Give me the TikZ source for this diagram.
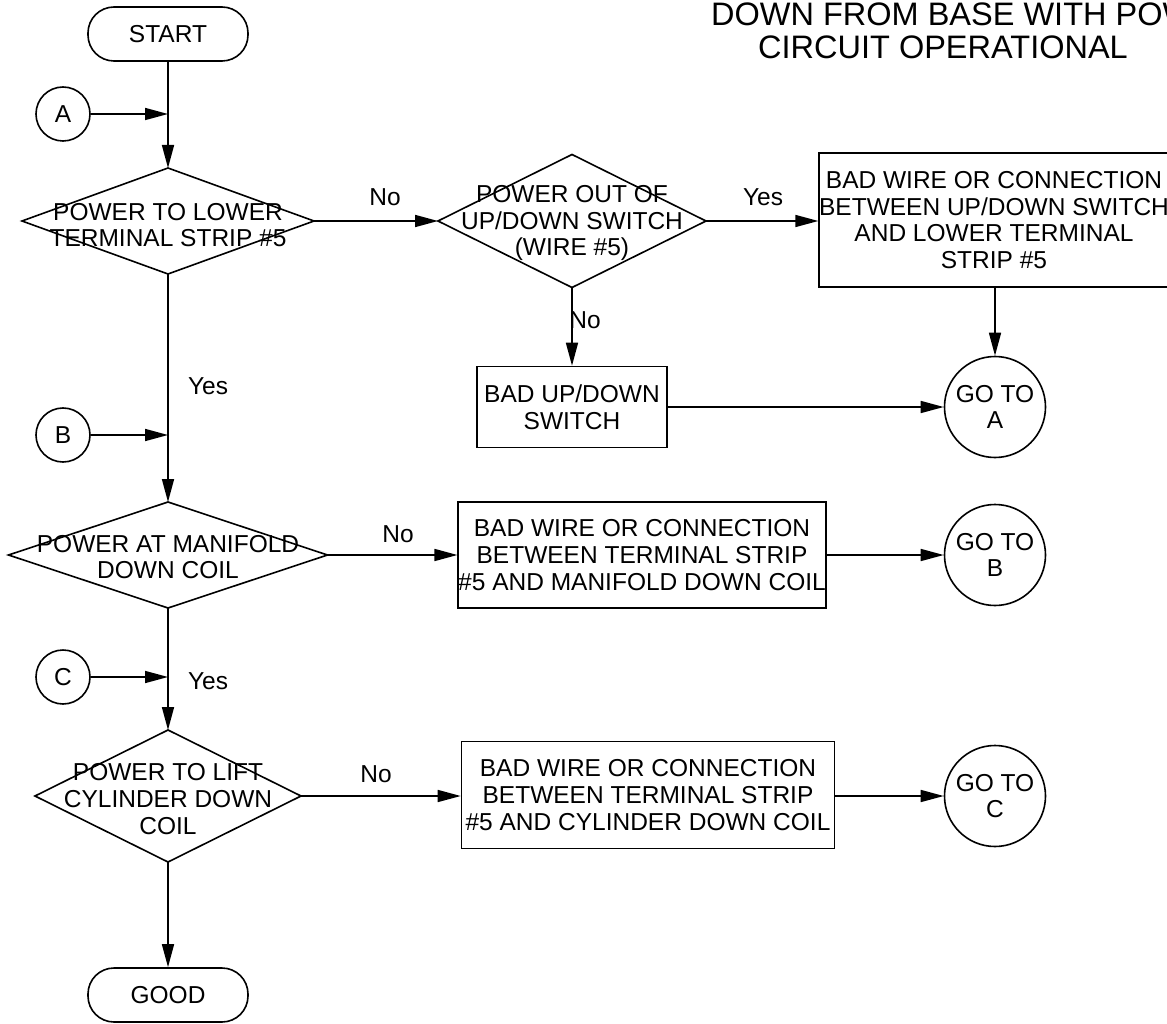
\documentclass[tikz,border=0pt]{standalone}
\usepackage{fontspec}
\setmainfont{Liberation Sans}
\usetikzlibrary{shapes.geometric,arrows.meta}
\tikzset{
  base/.style={line width=1.6pt},
  txt/.style={font=\fontsize{24.5}{26.7}\selectfont, align=center, inner sep=0pt},
  title/.style={font=\fontsize{32.5}{35}\selectfont, inner sep=0pt},
  term/.style={base, draw, rectangle, rounded corners=26pt, minimum width=160pt, minimum height=54pt, txt},
  dia/.style={base, draw, diamond, inner sep=0pt, outer sep=0pt},
  box/.style={base, draw, rectangle, txt},
  conn/.style={base, draw, circle, minimum size=54pt, txt},
  goto/.style={base, draw, circle, minimum size=101pt, txt},
  lbl/.style={txt},
  arr/.style={base, -{Triangle[length=23pt,width=12pt]}},
  ln/.style={base}
}
\begin{document}
\begin{tikzpicture}[x=1pt,y=-1pt]
\useasboundingbox (0,0) rectangle (1167,1024);
% title
\node[title, anchor=west] (t1) at (711,14) {DOWN FROM BASE WITH POW};
\node[title] (t2) at (943,47) {CIRCUIT OPERATIONAL};
% main column
\node[term] (st) at (168,34) {START};
\node[dia, minimum width=292pt, minimum height=106pt] (d1) at (168,221) {};
\node[txt] (d1t) at (168,225) {POWER TO LOWER\\TERMINAL STRIP \#5};
\node[dia, minimum width=319pt, minimum height=106pt] (d3) at (168,555) {};
\node[txt] (d3t) at (168,557) {POWER AT MANIFOLD\\DOWN COIL};
\node[dia, minimum width=266pt, minimum height=132pt] (d4) at (168,796) {};
\node[txt] (d4t) at (168,799) {POWER TO LIFT\\CYLINDER DOWN\\COIL};
\node[term] (gd) at (168,995) {GOOD};
% connectors circles
\node[conn] (cA) at (63,114) {A};
\node[conn] (cB) at (63,435) {B};
\node[conn] (cC) at (63,677) {C};
\coordinate (jA) at (168,114);
\coordinate (jB) at (168,435);
\coordinate (jC) at (168,677);
% second column
\node[dia, minimum width=268pt, minimum height=133pt] (d2) at (572,221) {};
\node[txt] (d2t) at (572,223) {POWER OUT OF\\UP/DOWN SWITCH\\(WIRE \#5)};
\node[box, minimum width=190pt, minimum height=81pt] (b2) at (572,407) {BAD UP/DOWN\\SWITCH};
\node[box, minimum width=336pt, minimum height=134pt] (b1) at (994,220) {BAD WIRE OR CONNECTION\\BETWEEN UP/DOWN SWITCH\\AND LOWER TERMINAL\\STRIP \#5};
\node[box, minimum width=359pt, minimum height=106pt] (b3) at (642,555) {BAD WIRE OR CONNECTION\\BETWEEN TERMINAL STRIP\\\#5 AND MANIFOLD DOWN COIL};
\node[box, minimum width=373pt, minimum height=107pt] (b4) at (648,795) {BAD WIRE OR CONNECTION\\BETWEEN TERMINAL STRIP\\\#5 AND CYLINDER DOWN COIL};
\node[goto] (ga) at (995,407) {GO TO\\A};
\node[goto] (gb) at (995,555) {GO TO\\B};
\node[goto] (gc) at (995,796) {GO TO\\C};
% labels
\node[lbl] (l1) at (385,197) {No};
\node[lbl] (l2) at (763,197) {Yes};
\node[lbl] (l3) at (585,320) {No};
\node[lbl] (l4) at (208,386) {Yes};
\node[lbl] (l5) at (398,534) {No};
\node[lbl] (l6) at (208,681) {Yes};
\node[lbl] (l7) at (376,774) {No};
% edges
\draw[arr] (st.south) -- (d1.north);
\draw[arr] (cA.east) -- (jA);
\draw[arr] (d1.south) -- (d3.north);
\draw[arr] (cB.east) -- (jB);
\draw[arr] (d3.south) -- (d4.north);
\draw[arr] (cC.east) -- (jC);
\draw[arr] (d4.south) -- (gd.north);
\draw[arr] (d1.east) -- (d2.west);
\draw[arr] (d2.east) -- (b1.west |- d2.east);
\draw[arr] (d2.south) -- (b2.north);
\draw[arr] (b1.south -| ga.north) -- (ga.north);
\draw[arr] (b2.east) -- (ga.west);
\draw[arr] (d3.east) -- (b3.west);
\draw[arr] (b3.east) -- (gb.west);
\draw[arr] (d4.east) -- (b4.west |- d4.east);
\draw[arr] (b4.east |- gc.west) -- (gc.west);
\end{tikzpicture}
\end{document}
